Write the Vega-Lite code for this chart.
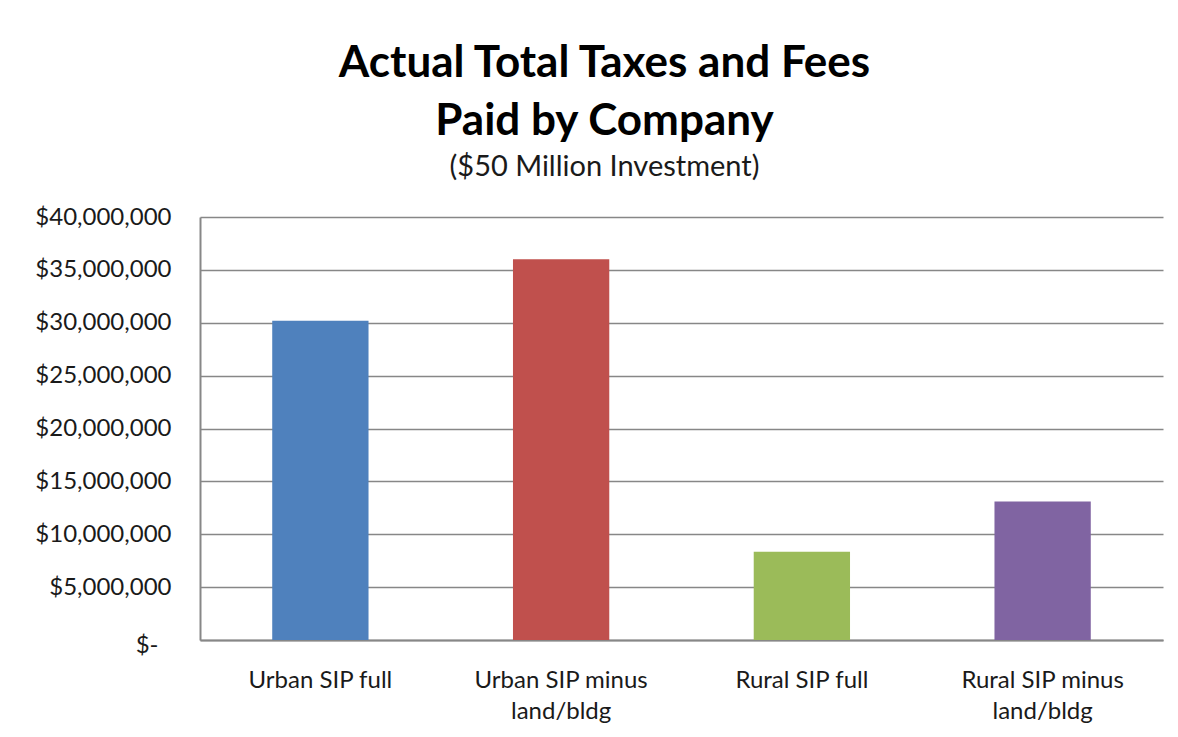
{
  "$schema": "https://vega.github.io/schema/vega-lite/v6.json",
  "width": 963,
  "height": 423,
  "autosize": {"type": "none"},
  "padding": {"left": 200, "top": 217, "right": 15, "bottom": 97},
  "background": "white",
  "title": {
    "text": ["Actual Total Taxes and Fees", "Paid by Company"],
    "subtitle": "($50 Million Investment)",
    "anchor": "middle",
    "frame": "group",
    "dx": -77,
    "font": "Lato",
    "fontSize": 44,
    "fontWeight": "bold",
    "color": "#000000",
    "lineHeight": 58,
    "subtitleFont": "Lato",
    "subtitleFontSize": 29,
    "subtitleColor": "#1a1a1a",
    "subtitlePadding": 9,
    "offset": 23
  },
  "data": {
    "values": [
      {"category": "Urban SIP full", "taxes": 30200000},
      {"category": "Urban SIP minus land/bldg", "taxes": 36000000},
      {"category": "Rural SIP full", "taxes": 8350000},
      {"category": "Rural SIP minus land/bldg", "taxes": 13100000}
    ]
  },
  "mark": {"type": "bar"},
  "encoding": {
    "x": {
      "field": "category",
      "type": "nominal",
      "sort": null,
      "scale": {"paddingInner": 0.6, "paddingOuter": 0.3},
      "axis": {
        "title": null,
        "labelAngle": 0,
        "labelFont": "Lato",
        "labelFontSize": 24,
        "labelColor": "#1a1a1a",
        "labelPadding": 28,
        "labelLineHeight": 31,
        "labelExpr": "split(replace(datum.label, 'minus ', 'minus|'), '|')",
        "ticks": false,
        "tickSize": 0,
        "domainColor": "#878787",
        "domainWidth": 2,
        "grid": false
      }
    },
    "y": {
      "field": "taxes",
      "type": "quantitative",
      "scale": {"domain": [0, 40000000], "nice": false},
      "axis": {
        "title": null,
        "values": [0, 5000000, 10000000, 15000000, 20000000, 25000000, 30000000, 35000000, 40000000],
        "labelExpr": "datum.value == 0 ? '$-' : '$' + format(datum.value, ',')",
        "labelFont": "Lato",
        "labelFontSize": 24,
        "labelColor": "#1a1a1a",
        "labelPadding": {"condition": {"test": "datum.value == 0", "value": 42}, "value": 29},
        "labelOffset": {"condition": {"test": "datum.value == 0", "value": 5}, "value": 0},
        "ticks": false,
        "tickSize": 0,
        "grid": true,
        "gridColor": "#878787",
        "gridWidth": 1.5,
        "domainColor": "#878787",
        "domainWidth": 2
      }
    },
    "color": {
      "field": "category",
      "type": "nominal",
      "scale": {
        "domain": ["Urban SIP full", "Urban SIP minus land/bldg", "Rural SIP full", "Rural SIP minus land/bldg"],
        "range": ["#4F81BD", "#C0504D", "#9BBB59", "#8064A2"]
      },
      "legend": null
    }
  },
  "config": {"view": {"stroke": null}}
}
